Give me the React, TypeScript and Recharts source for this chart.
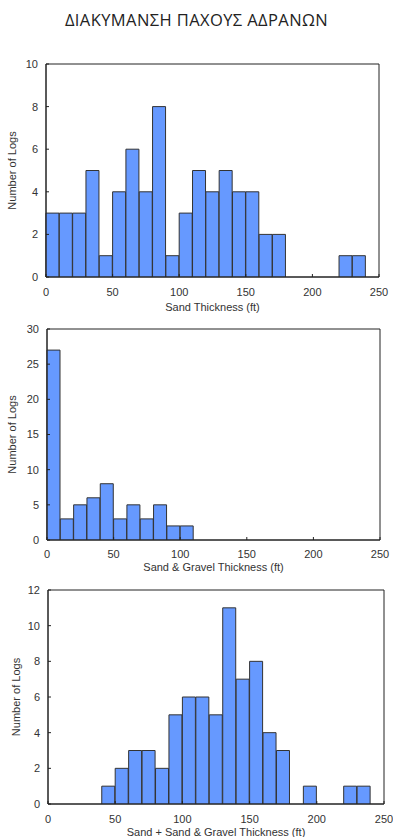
import React from "react";
import { BarChart, Bar, XAxis, YAxis, ReferenceArea, Label } from "recharts";

const binLabels = [
  "0-10", "10-20", "20-30", "30-40", "40-50", "50-60", "60-70", "70-80", "80-90", "90-100",
  "100-110", "110-120", "120-130", "130-140", "140-150", "150-160", "160-170", "170-180",
  "180-190", "190-200", "200-210", "210-220", "220-230", "230-240", "240-250",
];
const binStarts = [0, 10, 20, 30, 40, 50, 60, 70, 80, 90, 100, 110, 120, 130, 140, 150, 160, 170, 180, 190, 200, 210, 220, 230, 240];

const sandCounts = [3, 3, 3, 5, 1, 4, 6, 4, 8, 1, 3, 5, 4, 5, 4, 4, 2, 2, 0, 0, 0, 0, 1, 1, 0];
const gravelCounts = [27, 3, 5, 6, 8, 3, 5, 3, 5, 2, 2, 0, 0, 0, 0, 0, 0, 0, 0, 0, 0, 0, 0, 0, 0];
const totalCounts = [0, 0, 0, 0, 1, 2, 3, 3, 2, 5, 6, 6, 5, 11, 7, 8, 4, 3, 0, 1, 0, 0, 1, 1, 0];

const xTicks = [0, 50, 100, 150, 200, 250];
const sandYTicks = [0, 2, 4, 6, 8, 10];
const gravelYTicks = [0, 5, 10, 15, 20, 25, 30];
const totalYTicks = [0, 2, 4, 6, 8, 10, 12];

const titleText = "ΔΙΑΚΥΜΑΝΣΗ ΠΑΧΟΥΣ ΑΔΡΑΝΩΝ";
const yLabelText = "Number of Logs";

const build = (counts: number[]) =>
  binLabels.map((bin, i) => ({ bin, start: binStarts[i], count: counts[i] }));

const FONT = "'Liberation Sans', Arial, sans-serif";
const TEXT = "#333";
const LINE = "#222";

type HistProps = {
  top: number;
  height: number;
  margin: { top: number; right: number; left: number; bottom: number };
  yWidth: number;
  xHeight: number;
  counts: number[];
  yTicks: number[];
  xLabel: string;
  xTickMargin: number;
  xLabelOffset: number;
  yLabelOffset: number;
};

function Hist(p: HistProps) {
  const data = build(p.counts);
  const yMax = p.yTicks[p.yTicks.length - 1];
  return (
    <div style={{ position: "absolute", left: 0, top: p.top }}>
      <BarChart width={393} height={p.height} data={data} margin={p.margin} barCategoryGap={0}>
        <XAxis xAxisId="cat" dataKey="bin" hide height={0} />
        <XAxis
          xAxisId="num"
          dataKey="start"
          type="number"
          domain={[0, 250]}
          allowDataOverflow
          ticks={xTicks}
          height={p.xHeight}
          tickSize={-3}
          tickMargin={p.xTickMargin}
          stroke={LINE}
          tick={{ fill: TEXT, fontSize: 11, fontFamily: FONT }}
        >
          <Label
            value={p.xLabel}
            position="insideBottom"
            offset={p.xLabelOffset}
            style={{ fill: TEXT, fontSize: 11, fontFamily: FONT }}
          />
        </XAxis>
        <YAxis
          domain={[0, yMax]}
          ticks={p.yTicks}
          width={p.yWidth}
          tickSize={-3}
          tickMargin={11}
          stroke={LINE}
          allowDataOverflow
          tick={{ fill: TEXT, fontSize: 11, fontFamily: FONT }}
        >
          <Label
            value={yLabelText}
            angle={-90}
            position="insideLeft"
            offset={p.yLabelOffset}
            style={{ fill: TEXT, fontSize: 11, fontFamily: FONT, textAnchor: "middle" }}
          />
        </YAxis>
        <ReferenceArea
          xAxisId="num"
          x1={0}
          x2={250}
          y1={0}
          y2={yMax}
          fill="none"
          stroke={LINE}
          strokeWidth={1}
          ifOverflow="extendDomain"
        />
        <Bar
          xAxisId="cat"
          dataKey="count"
          fill="#6699ff"
          stroke="#333"
          strokeWidth={1}
          isAnimationActive={false}
        />
      </BarChart>
    </div>
  );
}

export default function App() {
  return (
    <div style={{ position: "absolute", left: 0, top: 0, width: 393, height: 837, background: "#fff" }}>
      <div
        style={{
          position: "absolute",
          left: 0,
          width: 393,
          top: 8,
          textAlign: "center",
          fontFamily: "'Open Sans', 'Noto Sans', sans-serif",
          fontSize: 16.5,
          color: "#222",
          letterSpacing: 0.4,
        }}
      >
        {titleText}
      </div>
      <Hist
        top={50}
        height={270}
        margin={{ top: 14, right: 14, left: 0, bottom: 0 }}
        yWidth={46}
        xHeight={43}
        counts={sandCounts}
        yTicks={sandYTicks}
        xLabel="Sand Thickness (ft)"
        xTickMargin={14}
        xLabelOffset={9}
        yLabelOffset={12}
      />
      <Hist
        top={315}
        height={260}
        margin={{ top: 14, right: 13, left: 0, bottom: 0 }}
        yWidth={47}
        xHeight={35}
        counts={gravelCounts}
        yTicks={gravelYTicks}
        xLabel="Sand & Gravel Thickness (ft)"
        xTickMargin={13}
        xLabelOffset={4}
        yLabelOffset={12}
      />
      <Hist
        top={576}
        height={261}
        margin={{ top: 14, right: 9, left: 0, bottom: 0 }}
        yWidth={48}
        xHeight={33}
        counts={totalCounts}
        yTicks={totalYTicks}
        xLabel="Sand + Sand & Gravel Thickness (ft)"
        xTickMargin={14}
        xLabelOffset={1}
        yLabelOffset={16}
      />
    </div>
  );
}
